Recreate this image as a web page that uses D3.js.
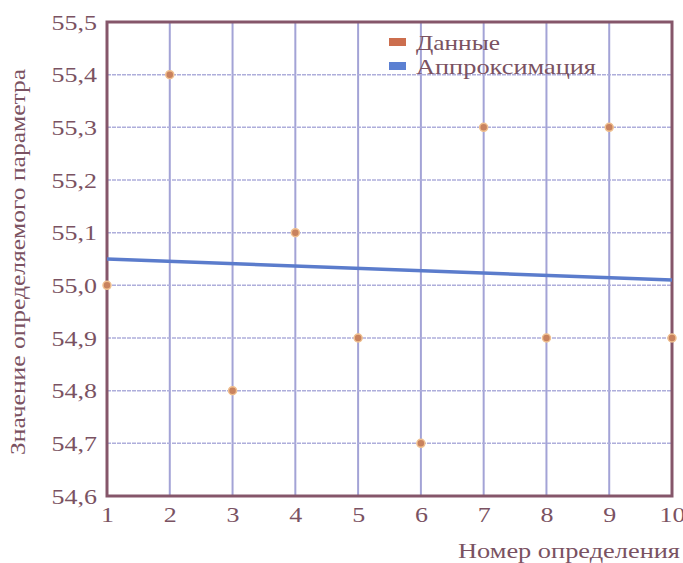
<!DOCTYPE html>
<html>
<head>
<meta charset="utf-8">
<script src="https://cdn.jsdelivr.net/npm/d3@7"></script>
<style>
  body { margin: 0; background: #fff; }
</style>
</head>
<body>
<div id="chart"></div>
<script>
// measurements
const xValues = [1, 2, 3, 4, 5, 6, 7, 8, 9, 10];
const yValues = [55.0, 55.4, 54.8, 55.1, 54.9, 54.7, 55.3, 54.9, 55.3, 54.9];
// approximation line (endpoints)
const fitX = [1, 10];
const fitY = [55.05, 55.01];
const yTicks = [54.6, 54.7, 54.8, 54.9, 55.0, 55.1, 55.2, 55.3, 55.4, 55.5];
const legendLabels = ["Данные", "Аппроксимация"];

const width = 683, height = 563;
const margin = {top: 22, right: 11, bottom: 67, left: 107};
const w = width - margin.left - margin.right;
const h = height - margin.top - margin.bottom;
const font = "Liberation Serif";
const textColor = "#7a5262";

// the scanned text is a little wider than normal Times
function stretch(sel, k) {
    sel.each(function () {
        const len = this.getComputedTextLength();
        d3.select(this)
            .attr("textLength", len * k)
            .attr("lengthAdjust", "spacingAndGlyphs");
    });
}

const root = d3.select("#chart").append("svg")
    .attr("width", width)
    .attr("height", height)
    .style("font-family", font);

const svg = root.append("g")
    .attr("transform", "translate(" + margin.left + "," + margin.top + ")");

const x = d3.scaleLinear().domain([1, 10]).range([0, w]);
const y = d3.scaleLinear().domain([54.6, 55.5]).range([h, 0]);

const fmt = d => d3.format(".1f")(d).replace(".", ",");

// grid
svg.append("g")
    .selectAll("line")
    .data(xValues.slice(1, -1))
    .enter().append("line")
    .attr("x1", d => x(d)).attr("x2", d => x(d))
    .attr("y1", 0).attr("y2", h)
    .style("stroke", "#a3a3d6")
    .style("stroke-width", 2);

svg.append("g")
    .selectAll("line")
    .data(yTicks.slice(1, -1))
    .enter().append("line")
    .attr("x1", 0).attr("x2", w)
    .attr("y1", d => y(d)).attr("y2", d => y(d))
    .style("stroke", "#aeaedb")
    .style("stroke-width", 1.5)
    .style("stroke-dasharray", "4, 1");

// axes
const yAxis = svg.append("g")
    .call(d3.axisLeft(y).tickValues(yTicks).tickFormat(fmt).tickSize(0).tickPadding(10))
    .attr("font-family", null).attr("font-size", null);
yAxis.select(".domain").remove();
yAxis.selectAll("text")
    .style("font-family", font).style("font-size", "22px").style("fill", textColor)
    .call(stretch, 1.18);

const xAxis = svg.append("g")
    .attr("transform", "translate(0," + h + ")")
    .call(d3.axisBottom(x).tickValues(xValues).tickFormat(d3.format("d")).tickSize(0).tickPadding(10))
    .attr("font-family", null).attr("font-size", null);
xAxis.select(".domain").remove();
xAxis.selectAll("text")
    .style("font-family", font).style("font-size", "22px").style("fill", textColor)
    .call(stretch, 1.18);

// frame
svg.append("rect")
    .attr("x", 0).attr("y", 0)
    .attr("width", w).attr("height", h)
    .style("fill", "none")
    .style("stroke", "#85566a")
    .style("stroke-width", 3);

// approximation
svg.append("path")
    .datum(fitX.map((d, i) => [d, fitY[i]]))
    .attr("d", d3.line().x(d => x(d[0])).y(d => y(d[1])))
    .style("fill", "none")
    .style("stroke", "#5b7ccc")
    .style("stroke-width", 3.5);

// data points
svg.append("g")
    .selectAll("circle")
    .data(xValues)
    .enter().append("circle")
    .attr("cx", (d, i) => x(d))
    .attr("cy", (d, i) => y(yValues[i]))
    .attr("r", 4)
    .style("fill", "#c8825e")
    .style("stroke", "#f0c090")
    .style("stroke-width", 1.5);

// legend
const legend = svg.append("g").attr("transform", "translate(282,20)");
const legendColors = ["#cc6e4e", "#5b80d2"];
const legendWidths = [84, 180];
legendLabels.forEach(function (label, i) {
    legend.append("rect")
        .attr("x", 0).attr("y", i * 24 - 4)
        .attr("width", 17).attr("height", 8)
        .style("fill", legendColors[i]);
    legend.append("text")
        .attr("x", 27).attr("y", i * 24 + 8)
        .attr("textLength", legendWidths[i])
        .attr("lengthAdjust", "spacingAndGlyphs")
        .style("font-family", font).style("font-size", "22px").style("fill", textColor)
        .text(label);
});

// axis titles
svg.append("text")
    .attr("x", w + 8).attr("y", h + 62)
    .attr("text-anchor", "end")
    .attr("textLength", 222)
    .attr("lengthAdjust", "spacingAndGlyphs")
    .style("font-family", font).style("font-size", "22px").style("fill", textColor)
    .text("Номер определения");

svg.append("text")
    .attr("transform", "rotate(-90)")
    .attr("x", -h / 2 - 3).attr("y", -82)
    .attr("text-anchor", "middle")
    .attr("textLength", 386)
    .attr("lengthAdjust", "spacingAndGlyphs")
    .style("font-family", font).style("font-size", "22px").style("fill", textColor)
    .text("Значение определяемого параметра");
</script>
</body>
</html>
